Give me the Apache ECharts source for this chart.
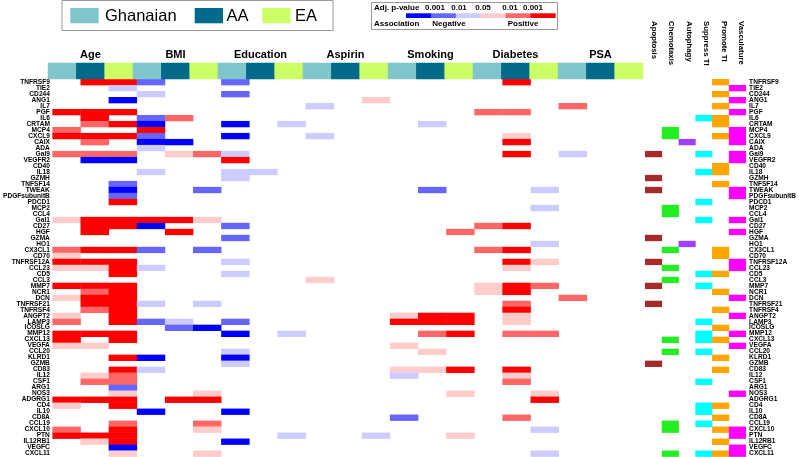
<!DOCTYPE html>
<html><head><meta charset="utf-8">
<script src="https://cdn.jsdelivr.net/npm/echarts/dist/echarts.min.js"></script>
<style>html,body{margin:0;padding:0;background:#fff}#c{width:799px;height:457px}</style>
</head><body><div id="c"></div>
<script>
const genes = ['TNFRSF9','TIE2','CD244','ANG1','IL7','PGF','IL6','CRTAM','MCP4','CXCL9','CAIX','ADA','Gal9','VEGFR2','CD40','IL18','GZMH','TNFSF14','TWEAK','PDGFsubunitB','PDCD1','MCP2','CCL4','Gal1','CD27','HGF','GZMA','HO1','CX3CL1','CD70','TNFRSF12A','CCL23','CD5','CCL3','MMP7','NCR1','DCN','TNFRSF21','TNFRSF4','ANGPT2','LAMP3','ICOSLG','MMP12','CXCL13','VEGFA','CCL20','KLRD1','GZMB','CD83','IL12','CSF1','ARG1','NOS3','ADGRG1','CD4','IL10','CD8A','CCL19','CXCL10','PTN','IL12RB1','VEGFC','CXCL11'];
const variables = ['Age','BMI','Education','Aspirin','Smoking','Diabetes','PSA'];
const groups = ['Ghanaian','AA','EA'];
const groupColors = ['#7EC6CC','#006A8B','#CCFF66'];
// association level: -3 neg p<0.001, -2 neg p<0.01, -1 neg p<0.05, 1/2/3 positive likewise
const levels = [-3,-2,-1,1,2,3];
const levelColors = ['#0000FF','#6666FF','#CCCCFF','#FFCCCC','#FF6666','#FF0000'];
const pLabels = ['0.001','0.01','0.05','0.01','0.001'];
// each row: [Ghanaian, AA, EA]
const age = [
 [0,3,3],[0,0,-1],[0,0,0],[0,0,-3],[0,0,0],[3,3,3],[0,3,0],
 [0,2,3],[2,0,0],[3,3,3],[0,2,0],[0,0,0],[2,2,2],[0,-3,-3],
 [0,0,0],[0,0,0],[0,0,0],[0,0,-2],[0,0,-3],[0,0,-2],[0,0,3],
 [0,0,0],[0,0,0],[1,3,3],[0,3,3],[0,3,0],[0,0,0],[0,0,0],
 [2,3,3],[1,0,0],[3,3,3],[1,1,3],[0,0,3],[0,0,0],[3,3,3],
 [0,2,3],[1,3,3],[0,3,3],[0,2,3],[1,0,3],[2,0,3],[0,0,0],
 [3,3,3],[3,0,3],[1,1,0],[0,0,0],[0,0,3],[0,0,0],[0,0,3],
 [0,1,2],[0,2,2],[0,0,-2],[0,0,1],[3,3,3],[1,0,3],[0,0,0],
 [0,0,0],[0,0,2],[2,0,3],[3,3,3],[0,1,3],[0,0,-3],[0,0,1]];
const bmi = [
 [-2,0,0],[0,0,0],[-1,0,0],[0,0,0],[0,0,0],[0,0,0],[-2,2,0],
 [-3,0,0],[3,0,0],[-2,0,0],[-3,-3,0],[-1,0,0],[0,1,2],[0,0,0],
 [0,0,0],[-1,0,0],[0,0,0],[0,0,0],[0,0,-2],[0,0,0],[0,0,0],
 [0,0,0],[0,0,0],[3,3,1],[-3,0,0],[0,3,0],[0,0,0],[0,0,0],
 [-2,0,-2],[0,0,0],[0,0,0],[-1,0,0],[0,0,0],[0,0,0],[0,0,0],
 [0,0,0],[0,0,0],[-1,0,-1],[0,0,0],[0,0,0],[-2,-1,0],[0,-2,-3],
 [0,0,0],[0,0,0],[0,0,0],[0,0,0],[-3,0,0],[0,0,0],[-1,0,0],
 [0,0,0],[0,0,0],[0,0,0],[0,0,1],[0,3,3],[0,0,0],[-3,0,0],
 [0,0,0],[0,0,2],[0,0,1],[0,0,0],[0,0,0],[0,0,0],[0,0,1]];
const education = [
 [-2,0,0],[0,0,0],[-2,0,0],[0,0,0],[0,0,0],[0,0,0],[0,0,0],
 [-3,0,-1],[0,0,0],[-3,0,0],[0,0,0],[0,0,0],[-1,0,0],[3,0,0],
 [0,0,0],[-1,-1,0],[-1,0,0],[0,0,0],[0,0,0],[0,0,0],[0,0,0],
 [0,0,0],[0,0,0],[0,0,0],[-2,0,0],[0,0,0],[-2,0,0],[0,0,0],
 [0,0,0],[0,0,0],[-1,0,0],[0,0,0],[-1,0,0],[0,0,0],[0,0,0],
 [0,0,0],[0,0,0],[0,0,0],[0,0,0],[0,0,0],[-2,0,0],[0,0,0],
 [-3,0,-1],[0,0,0],[0,0,0],[-1,0,0],[-3,0,0],[-1,0,0],[0,0,0],
 [0,0,0],[0,0,0],[0,0,0],[0,0,0],[0,0,0],[0,0,0],[-3,0,0],
 [0,0,0],[0,0,0],[0,0,0],[0,0,-1],[-3,0,0],[0,0,0],[0,0,0]];
const aspirin = [
 [0,0,0],[0,0,0],[0,0,0],[0,0,1],[-1,0,0],[0,0,0],[0,0,0],
 [0,0,0],[0,0,0],[-1,0,0],[0,0,0],[0,0,0],[0,0,0],[0,0,0],
 [0,0,0],[0,0,0],[0,0,0],[0,0,0],[0,0,0],[0,0,0],[0,0,0],
 [0,0,0],[0,0,0],[0,0,0],[0,0,0],[0,0,0],[0,0,0],[0,0,0],
 [0,0,0],[0,0,0],[0,0,0],[0,0,0],[0,0,0],[1,0,0],[0,0,0],
 [0,0,0],[0,0,0],[0,0,0],[0,0,0],[0,0,0],[0,0,0],[0,0,0],
 [0,0,0],[0,0,0],[0,0,0],[0,0,0],[0,0,0],[0,0,0],[0,0,0],
 [0,0,0],[0,0,0],[0,0,0],[0,0,0],[0,0,0],[0,0,0],[0,0,0],
 [0,0,0],[0,0,0],[0,0,0],[0,0,-1],[0,0,0],[0,0,0],[0,0,0]];
const smoking = [
 [0,0,0],[0,0,0],[0,0,0],[0,0,0],[0,0,0],[0,0,0],[0,0,0],
 [0,-1,0],[0,0,0],[0,0,0],[0,0,0],[0,0,0],[0,0,0],[0,0,0],
 [0,0,0],[0,0,0],[0,0,0],[0,0,0],[0,-2,0],[0,0,0],[0,0,0],
 [0,0,0],[0,0,0],[0,0,0],[0,0,0],[0,0,2],[0,0,0],[0,0,0],
 [0,0,0],[0,0,0],[0,0,0],[0,0,0],[0,0,0],[0,0,0],[0,0,0],
 [0,0,0],[0,0,0],[0,0,0],[0,0,0],[1,3,3],[3,3,3],[0,0,0],
 [0,2,3],[0,0,0],[1,0,0],[0,1,0],[0,0,0],[0,0,0],[1,1,3],
 [-1,0,0],[0,0,0],[0,0,0],[0,0,1],[0,0,0],[0,0,0],[0,0,0],
 [-2,0,0],[0,0,0],[0,0,0],[0,0,1],[0,0,0],[0,0,0],[0,0,0]];
const diabetes = [
 [0,3,0],[0,0,0],[0,0,0],[0,0,0],[0,0,0],[2,2,0],[0,0,0],
 [0,0,0],[0,0,0],[0,1,0],[0,3,0],[0,0,0],[0,3,0],[0,0,0],
 [0,0,0],[0,0,0],[0,0,0],[0,0,0],[0,0,-1],[0,0,0],[0,0,0],
 [0,0,-1],[0,0,0],[0,0,0],[2,3,0],[0,0,0],[0,0,0],[0,0,-1],
 [2,3,0],[0,0,0],[0,3,1],[0,1,0],[0,0,0],[0,0,0],[1,3,2],
 [1,3,0],[0,0,0],[0,2,0],[0,3,0],[0,1,0],[0,1,0],[0,0,0],
 [0,2,2],[0,0,0],[0,0,0],[0,0,0],[0,0,0],[0,0,0],[0,3,0],
 [0,1,0],[0,2,0],[0,0,0],[0,0,1],[0,0,3],[0,0,0],[0,0,0],
 [0,2,0],[0,0,0],[0,0,-1],[0,0,0],[0,0,0],[0,0,0],[0,0,-1]];
const psa = [
 [0,0,0],[0,0,0],[0,0,0],[0,0,0],[2,0,0],[0,0,0],[0,0,0],
 [0,0,0],[0,0,0],[0,0,0],[0,0,0],[0,0,0],[-1,0,0],[0,0,0],
 [0,0,0],[0,0,0],[0,0,0],[0,0,0],[0,0,0],[0,0,0],[0,0,0],
 [0,0,0],[0,0,0],[0,0,0],[0,0,0],[0,0,0],[0,0,0],[0,0,0],
 [0,0,0],[0,0,0],[0,0,0],[0,0,0],[0,0,0],[0,0,0],[0,0,0],
 [0,0,0],[2,0,0],[0,0,0],[0,0,0],[0,0,0],[0,0,0],[0,0,0],
 [0,0,0],[0,0,0],[0,0,0],[0,0,0],[0,0,0],[0,0,0],[0,0,0],
 [0,0,0],[0,0,0],[0,0,0],[0,0,0],[0,0,0],[0,0,0],[0,0,0],
 [0,0,0],[0,0,0],[0,0,0],[0,0,0],[0,0,0],[0,0,0],[0,0,0]];
const functions = ['Apoptosis','Chemotaxis','Autophagy','Suppress TI','Promote TI','Vasculature'];
const fnColors = ['#A52A2A','#22EE22','#A040FF','#00FFFF','#FFA500','#FF00FF'];
const apoptosis = ['Gal9','GZMH','TWEAK','GZMA','TNFRSF12A','MMP7','TNFRSF21','GZMB'];
const chemotaxis = ['MCP4','CXCL9','MCP2','CCL4','CX3CL1','CCL23','CCL3','CXCL13','CCL20','CCL19','CXCL10','CXCL11'];
const autophagy = ['CAIX','HO1'];
const suppressTI = ['IL6','Gal9','IL18','PDCD1','Gal1','CD5','MMP7','LAMP3','MMP12','CXCL13','CCL20','CSF1','CD4','IL10','CCL19','CXCL11'];
const promoteTI = ['TNFRSF9','CD244','IL7','IL6','CRTAM','CXCL9','CD40','IL18','TNFSF14','CX3CL1','CD70','CD5','NCR1','TNFRSF4','ICOSLG','CXCL13','KLRD1','CD83','CD4','CD8A','CXCL10','IL12RB1','CXCL11'];
const vasculature = ['TIE2','ANG1','PGF','MCP4','CXCL9','CAIX','Gal9','VEGFR2','TWEAK','PDGFsubunitB','Gal1','HGF','TNFRSF12A','CCL23','DCN','ANGPT2','MMP12','VEGFA','NOS3','CXCL10','PTN','VEGFC','CXCL11'];

const FONT = '"Liberation Sans", Arial, Helvetica, sans-serif';
const colLabels = [];
variables.forEach(v => groups.forEach(g => colLabels.push(v + ' ' + g)));
const heatData = [];
[age, bmi, education, aspirin, smoking, diabetes, psa].forEach((arr, vi) =>
  arr.forEach((row, ri) => row.forEach((val, gi) => { if (val) heatData.push([vi * 3 + gi, ri, val]); })));
const headerData = colLabels.map((c, i) => [i, 0, i % 3]);
const annotData = [];
[apoptosis, chemotaxis, autophagy, suppressTI, promoteTI, vasculature].forEach((list, fi) =>
  list.forEach(g => annotData.push([fi, genes.indexOf(g), fi])));

// cell renderer using the axes' own scales; slight overlap hides anti-alias seams
function cell(params, api) {
  const c = api.coord([api.value(0), api.value(1)]);
  const s = api.size([1, 1]);
  return { type: 'rect', shape: { x: c[0] - s[0] / 2, y: c[1] - s[1] / 2, width: s[0] + 0.35, height: s[1] + 0.35 },
    style: { fill: api.visual('color') } };
}

const hid = { axisLine: { show: false }, axisTick: { show: false }, axisLabel: { show: false }, splitLine: { show: false } };
const noLine = { axisLine: { show: false }, axisTick: { show: false }, splitLine: { show: false } };
const geneLabel = { fontSize: 6.6, fontWeight: 'bold', color: '#000', interval: 0, fontFamily: FONT };

const els = [];
// group legend
els.push({ type: 'rect', shape: { x: 62, y: 0.5, width: 271, height: 30 }, style: { fill: '#fff', stroke: '#999', lineWidth: 1 } });
const swX = [70.3, 194.7, 262.3], txX = [105, 226.5, 295];
groups.forEach((g, i) => {
  els.push({ type: 'rect', shape: { x: swX[i], y: 8, width: 28.3, height: 15.3 }, style: { fill: groupColors[i] } });
  els.push({ type: 'text', x: txX[i], y: 16, style: { text: g, fill: '#000', font: '16.5px ' + FONT, textVerticalAlign: 'middle', textAlign: 'left' } });
});
// p-value legend
els.push({ type: 'rect', shape: { x: 371.5, y: 2.5, width: 186, height: 27 }, style: { fill: '#fff', stroke: '#999', lineWidth: 1 } });
els.push({ type: 'text', x: 374, y: 7.5, style: { text: 'Adj. p-value', fill: '#000', font: 'bold 8px ' + FONT, textVerticalAlign: 'middle' } });
const plX = [435, 459, 483, 510, 533];
pLabels.forEach((t, i) => els.push({ type: 'text', x: plX[i], y: 7.5, style: { text: t, fill: '#000', font: 'bold 8px ' + FONT, textVerticalAlign: 'middle', textAlign: 'center' } }));
levelColors.forEach((c, i) => els.push({ type: 'rect', shape: { x: 406 + i * 24.9, y: 13.3, width: 25.2, height: 4.7 }, style: { fill: c } }));
els.push({ type: 'text', x: 374, y: 24, style: { text: 'Association', fill: '#000', font: 'bold 8px ' + FONT, textVerticalAlign: 'middle' } });
els.push({ type: 'text', x: 449, y: 24, style: { text: 'Negative', fill: '#000', font: 'bold 8px ' + FONT, textVerticalAlign: 'middle', textAlign: 'center' } });
els.push({ type: 'text', x: 523, y: 24, style: { text: 'Positive', fill: '#000', font: 'bold 8px ' + FONT, textVerticalAlign: 'middle', textAlign: 'center' } });

const chart = echarts.init(document.getElementById('c'));
chart.setOption({
  animation: false,
  backgroundColor: '#fff',
  grid: [
    { left: 48, top: 79, width: 595, height: 378 },
    { left: 48, top: 63, width: 595, height: 16 },
    { left: 645, top: 79, width: 105, height: 378 },
    { left: 645, top: 4, width: 105, height: 15 }
  ],
  xAxis: [
    Object.assign({ type: 'category', gridIndex: 0, data: colLabels }, hid),
    Object.assign({ type: 'category', gridIndex: 1, data: colLabels }, hid),
    Object.assign({ type: 'category', gridIndex: 1, data: variables, position: 'top',
      axisLabel: { fontSize: 11, fontWeight: 'bold', color: '#000', margin: 3, interval: 0, fontFamily: FONT } }, noLine),
    Object.assign({ type: 'category', gridIndex: 2, data: functions }, hid),
    Object.assign({ type: 'category', gridIndex: 3, data: functions, position: 'bottom',
      axisLabel: { rotate: -90, fontSize: 7.8, fontWeight: 'bold', color: '#000', margin: 2, interval: 0, fontFamily: FONT } }, noLine)
  ],
  yAxis: [
    Object.assign({ type: 'category', gridIndex: 0, data: genes, inverse: true, axisLabel: Object.assign({ margin: 2.5 }, geneLabel) }, noLine),
    Object.assign({ type: 'category', gridIndex: 1, data: ['g'] }, hid),
    Object.assign({ type: 'category', gridIndex: 2, data: genes, inverse: true, position: 'right', axisLabel: Object.assign({ margin: 3.5 }, geneLabel) }, noLine),
    Object.assign({ type: 'value', gridIndex: 3 }, hid)
  ],
  visualMap: [
    { type: 'piecewise', show: false, seriesIndex: 0, dimension: 2, pieces: levels.map((v, i) => ({ value: v, color: levelColors[i] })) },
    { type: 'piecewise', show: false, seriesIndex: 1, dimension: 2, pieces: groups.map((g, i) => ({ value: i, color: groupColors[i] })) },
    { type: 'piecewise', show: false, seriesIndex: 2, dimension: 2, pieces: functions.map((f, i) => ({ value: i, color: fnColors[i] })) }
  ],
  series: [
    { type: 'custom', xAxisIndex: 0, yAxisIndex: 0, data: heatData, renderItem: cell, encode: { x: 0, y: 1 } },
    { type: 'heatmap', xAxisIndex: 1, yAxisIndex: 1, data: headerData, emphasis: { disabled: true } },
    { type: 'custom', xAxisIndex: 3, yAxisIndex: 2, data: annotData, renderItem: cell, encode: { x: 0, y: 1 } }
  ],
  graphic: { elements: els }
});
</script></body></html>
